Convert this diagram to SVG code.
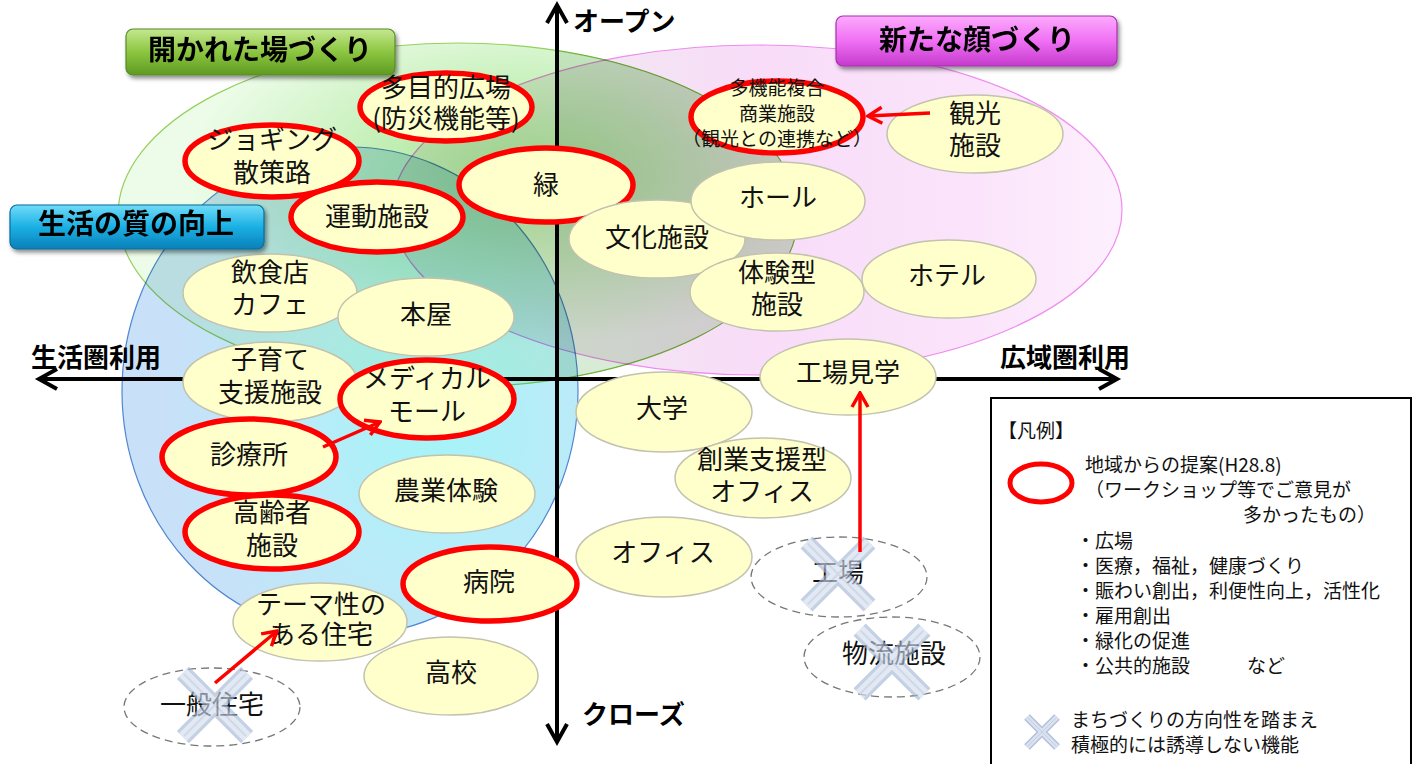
<svg xmlns="http://www.w3.org/2000/svg" width="1414" height="764" viewBox="0 0 1414 764">
<defs>
<style>
.t{font-family:'Noto Sans CJK JP','Noto Sans',sans-serif;font-size:26px;fill:#111;text-anchor:middle}
.s{font-family:'Noto Sans CJK JP','Noto Sans',sans-serif;font-size:19px;fill:#111;text-anchor:middle}
.b{font-family:'Noto Sans CJK JP','Noto Sans',sans-serif;font-size:26px;font-weight:bold;fill:#000}
.lb{font-family:'Noto Sans CJK JP','Noto Sans',sans-serif;font-size:28px;font-weight:bold;fill:#000;text-anchor:middle}
.lg{font-family:'Noto Sans CJK JP','Noto Sans',sans-serif;font-size:19px;fill:#111}
.n{fill:#ffffcc;stroke:#c2c2ae;stroke-width:1.5}
.r{fill:#ffffcc;stroke:#ff0000;stroke-width:5.5}
.d{fill:none;stroke:#777;stroke-width:1.3;stroke-dasharray:8 5}
.ax{fill:none;stroke:#000;stroke-width:4}
.ra{fill:none;stroke:#ff0000;stroke-width:3.5}
.bl{mix-blend-mode:multiply}
</style>
<linearGradient id="pinkG" x1="0" y1="0" x2="1" y2="0">
<stop offset="0" stop-color="#f0eef0"/>
<stop offset="0.25" stop-color="#f2e8f2"/>
<stop offset="0.5" stop-color="#f8dcf8"/>
<stop offset="0.8" stop-color="#fbe4fb"/>
<stop offset="1" stop-color="#fdf0fd"/>
</linearGradient>
<radialGradient id="greenG" cx="0.6" cy="0.38" r="0.5">
<stop offset="0" stop-color="#a4e290"/>
<stop offset="0.5" stop-color="#c6f0ba"/>
<stop offset="1" stop-color="#ecfce8"/>
</radialGradient>
<radialGradient id="blueG" cx="0.68" cy="0.58" r="0.6">
<stop offset="0" stop-color="#a4f4f8"/>
<stop offset="0.45" stop-color="#b8ecf8"/>
<stop offset="1" stop-color="#c8e0f8"/>
</radialGradient>
<linearGradient id="boxG" x1="0" y1="0" x2="0" y2="1">
<stop offset="0" stop-color="#c4e890"/>
<stop offset="0.5" stop-color="#8cc640"/>
<stop offset="1" stop-color="#5e9a22"/>
</linearGradient>
<linearGradient id="boxB" x1="0" y1="0" x2="0" y2="1">
<stop offset="0" stop-color="#70dcf8"/>
<stop offset="0.5" stop-color="#1ab0e4"/>
<stop offset="1" stop-color="#0a80b8"/>
</linearGradient>
<linearGradient id="boxM" x1="0" y1="0" x2="0" y2="1">
<stop offset="0" stop-color="#fcaafc"/>
<stop offset="0.5" stop-color="#f070f4"/>
<stop offset="1" stop-color="#c43acc"/>
</linearGradient>
<clipPath id="rightClip"><rect x="559" y="0" width="400" height="500"/></clipPath>
<filter id="sh" x="-10%" y="-20%" width="120%" height="160%"><feDropShadow dx="2" dy="3" stdDeviation="2" flood-color="#000" flood-opacity="0.45"/></filter>
<marker id="ah" viewBox="0 0 20 20" refX="18" refY="10" markerWidth="20" markerHeight="20" markerUnits="userSpaceOnUse" orient="auto">
<path d="M4,2 L18,10 L4,18" fill="none" stroke="#ff0000" stroke-width="3.5"/>
</marker>
<g id="xm">
<path d="M-30,-30 L30,30 M30,-30 L-30,30" stroke="#a6b8d6" stroke-width="16" fill="none"/>
<path d="M-30,-30 L30,30 M30,-30 L-30,30" stroke="#d4deee" stroke-width="10" fill="none"/>
<path d="M-29,-29 L29,29 M29,-29 L-29,29" stroke="#b8c6e0" stroke-width="2" fill="none"/>
</g>
</defs>
<rect width="1414" height="764" fill="#fff"/>

<g id="regions" style="isolation:isolate">
<ellipse cx="757" cy="210" rx="365" ry="165" fill="url(#pinkG)" stroke="#f08cf0" stroke-width="1.2"/>
<ellipse class="bl" cx="458" cy="215" rx="340" ry="172" fill="url(#greenG)" stroke="#96d060" stroke-width="1.2"/>
<ellipse class="bl" cx="458" cy="215" rx="340" ry="172" fill="#eaeeec" stroke="#b8d8a0" stroke-width="1" clip-path="url(#rightClip)"/>
<ellipse class="bl" cx="350" cy="391" rx="228" ry="244" fill="url(#blueG)" stroke="#5088d0" stroke-width="1.2"/>
</g>

<g id="axes">
<path class="ax" d="M557,6 V741 M40,379 H1116"/>
<polyline class="ax" points="547,23 557,5 567,23"/>
<polyline class="ax" points="547,724 557,742 567,724"/>
<polyline class="ax" points="57,369 39,379 57,389"/>
<polyline class="ax" points="1099,369 1117,379 1099,389"/>
<text class="b" x="573" y="31">オープン</text>
<text class="b" x="582" y="724">クローズ</text>
<text class="b" x="31" y="367">生活圏利用</text>
<text class="b" x="1000" y="367">広域圏利用</text>
</g>

<g id="n-hiroba"><ellipse class="r" cx="446" cy="107" rx="86" ry="34"/><text class="t" x="446" y="97">多目的広場</text><text class="t" x="446" y="128">(防災機能等)</text></g>
<g id="n-jogging"><ellipse class="r" cx="272" cy="161" rx="87" ry="36"/><text class="t" x="272" y="149">ジョギング</text><text class="t" x="272" y="182">散策路</text></g>
<g id="n-undo"><ellipse class="r" cx="377" cy="217" rx="86" ry="35"/><text class="t" x="377" y="226">運動施設</text></g>
<g id="n-midori"><ellipse class="r" cx="546" cy="185" rx="87" ry="37"/><text class="t" x="546" y="194">緑</text></g>
<g id="n-bunka"><ellipse class="n" cx="657" cy="239" rx="88" ry="39"/><text class="t" x="657" y="247">文化施設</text></g>
<g id="n-hall"><ellipse class="n" cx="778" cy="201" rx="87" ry="39"/><text class="t" x="778" y="207">ホール</text></g>
<g id="n-taiken"><ellipse class="n" cx="777" cy="292" rx="87" ry="39"/><text class="t" x="777" y="282">体験型</text><text class="t" x="777" y="314">施設</text></g>
<g id="n-hotel"><ellipse class="n" cx="949" cy="279" rx="87" ry="39"/><text class="t" x="947" y="285">ホテル</text></g>
<g id="n-kanko"><ellipse class="n" cx="975" cy="134" rx="88" ry="39"/><text class="t" x="975" y="123">観光</text><text class="t" x="975" y="155">施設</text></g>
<g id="n-shogyo"><ellipse class="r" cx="777" cy="117" rx="86" ry="36"/><text class="s" x="777" y="95">多機能複合</text><text class="s" x="777" y="121">商業施設</text><text class="s" x="777" y="146">（観光との連携など）</text></g>
<g id="n-inshoku"><ellipse class="n" cx="270" cy="293" rx="87" ry="39"/><text class="t" x="270" y="282">飲食店</text><text class="t" x="270" y="314">カフェ</text></g>
<g id="n-honya"><ellipse class="n" cx="426" cy="317" rx="88" ry="39"/><text class="t" x="426" y="324">本屋</text></g>
<g id="n-kosodate"><ellipse class="n" cx="270" cy="382" rx="87" ry="40"/><text class="t" x="270" y="369">子育て</text><text class="t" x="270" y="402">支援施設</text></g>
<g id="n-medical"><ellipse class="r" cx="427" cy="399" rx="87" ry="39"/><text class="t" x="427" y="388">メディカル</text><text class="t" x="427" y="421">モール</text></g>
<g id="n-koreisha"><ellipse class="r" cx="272" cy="532" rx="87" ry="37"/><text class="t" x="272" y="522">高齢者</text><text class="t" x="272" y="555">施設</text></g>
<g id="n-shinryo"><ellipse class="r" cx="249" cy="457" rx="87" ry="38"/><text class="t" x="249" y="464">診療所</text></g>
<g id="n-nogyo"><ellipse class="n" cx="447" cy="494" rx="88" ry="39"/><text class="t" x="446" y="500">農業体験</text></g>
<g id="n-byoin"><ellipse class="r" cx="490" cy="584" rx="87" ry="37"/><text class="t" x="489" y="591">病院</text></g>
<g id="n-thema"><ellipse class="n" cx="320" cy="622" rx="87" ry="39"/><text class="t" x="321" y="614">テーマ性の</text><text class="t" x="321" y="644">ある住宅</text></g>
<g id="n-koko"><ellipse class="n" cx="451" cy="676" rx="87" ry="39"/><text class="t" x="451" y="682">高校</text></g>
<g id="n-ippan"><ellipse class="d" cx="212" cy="707" rx="88" ry="39"/><text class="t" x="212" y="714">一般住宅</text><use href="#xm" transform="translate(215,705) scale(1.07)" opacity="0.65"/></g>
<g id="n-daigaku"><ellipse class="n" cx="664" cy="412" rx="88" ry="40"/><text class="t" x="662" y="418">大学</text></g>
<g id="n-kojokengaku"><ellipse class="n" cx="848" cy="377" rx="88" ry="38"/><text class="t" x="848" y="382">工場見学</text></g>
<g id="n-sogyo"><ellipse class="n" cx="763" cy="478" rx="88" ry="40"/><text class="t" x="762" y="469">創業支援型</text><text class="t" x="762" y="501">オフィス</text></g>
<g id="n-office"><ellipse class="n" cx="664" cy="557" rx="88" ry="40"/><text class="t" x="663" y="562">オフィス</text></g>
<g id="n-kojo"><ellipse class="d" cx="839" cy="577" rx="88" ry="40"/><text class="t" x="838" y="582">工場</text><use href="#xm" transform="translate(838,574) scale(1.05)" opacity="0.65"/></g>
<g id="n-butsuryu"><ellipse class="d" cx="892" cy="657" rx="88" ry="40"/><text class="t" x="894" y="663">物流施設</text><use href="#xm" transform="translate(892,662) scale(1.08)" opacity="0.65"/></g>

<g id="connectors">
<line class="ra" x1="930" y1="113" x2="868" y2="116" marker-end="url(#ah)"/>
<line class="ra" x1="323" y1="447" x2="380" y2="422" marker-end="url(#ah)"/>
<line class="ra" x1="215" y1="683" x2="277" y2="631" marker-end="url(#ah)"/>
<line class="ra" x1="860" y1="552" x2="860" y2="393" marker-end="url(#ah)"/>
</g>

<g id="label-open" filter="url(#sh)"><rect x="126" y="29" width="269" height="46" rx="7" fill="url(#boxG)" stroke="#5a8a28" stroke-width="1.2"/><text class="lb" x="260" y="60">開かれた場づくり</text></g>
<g id="label-life" filter="url(#sh)"><rect x="10" y="205" width="254" height="44" rx="7" fill="url(#boxB)" stroke="#0a6c9c" stroke-width="1.2"/><text class="lb" x="136" y="234">生活の質の向上</text></g>
<g id="label-face" filter="url(#sh)"><rect x="836" y="16" width="281" height="50" rx="7" fill="url(#boxM)" stroke="#a830b0" stroke-width="1.2"/><text class="lb" x="977" y="50">新たな顔づくり</text></g>

<g id="legend">
<rect x="991" y="398" width="420" height="370" fill="#fff" stroke="#000" stroke-width="2"/>
<text class="lg" x="998" y="438">【凡例】</text>
<ellipse cx="1041" cy="483" rx="31" ry="19" fill="none" stroke="#ff0000" stroke-width="5"/>
<text class="lg" x="1085" y="472">地域からの提案(H28.8)</text>
<text class="lg" x="1085" y="497">（ワークショップ等でご意見が</text>
<text class="lg" x="1243" y="522">多かったもの）</text>
<text class="lg" x="1076" y="548">・広場</text>
<text class="lg" x="1076" y="573">・医療，福祉，健康づくり</text>
<text class="lg" x="1076" y="598">・賑わい創出，利便性向上，活性化</text>
<text class="lg" x="1076" y="623">・雇用創出</text>
<text class="lg" x="1076" y="648">・緑化の促進</text>
<text class="lg" x="1076" y="673">・公共的施設　　　など</text>
<use href="#xm" transform="translate(1042,732) scale(0.5)" opacity="0.85"/>
<text class="lg" x="1071" y="727">まちづくりの方向性を踏まえ</text>
<text class="lg" x="1071" y="752">積極的には誘導しない機能</text>
</g>
</svg>
